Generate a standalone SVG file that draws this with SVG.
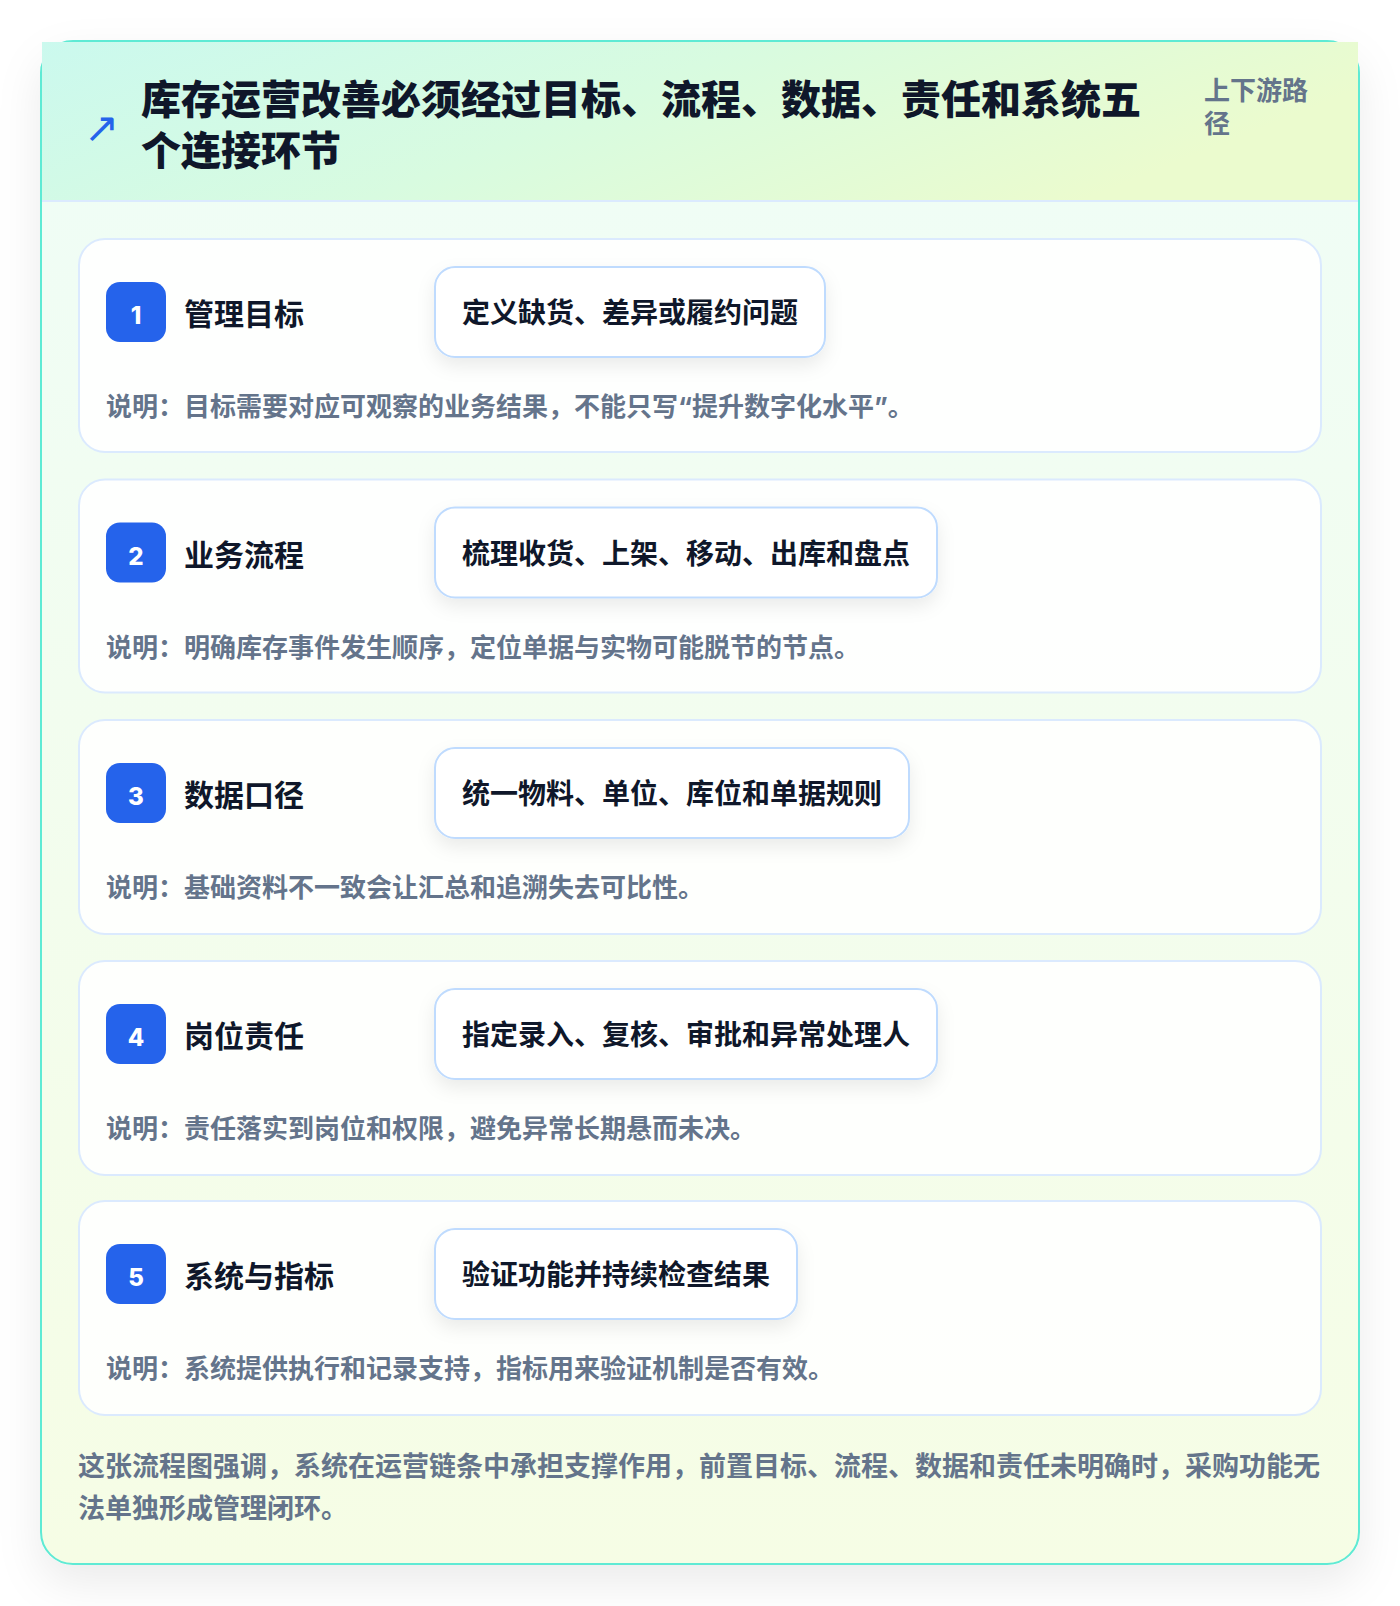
<svg xmlns="http://www.w3.org/2000/svg" width="1400" height="1606" viewBox="0 0 1400 1606">
<defs>
<linearGradient id="bodyGrad" x1="0" y1="0" x2="0" y2="1">
<stop offset="0" stop-color="#effdf7"/>
<stop offset="1" stop-color="#f6fde5"/>
</linearGradient>
<linearGradient id="headGrad" x1="0" y1="0" x2="1" y2="0.3">
<stop offset="0" stop-color="#cbf9ee"/>
<stop offset="0.5" stop-color="#d8fbe0"/>
<stop offset="1" stop-color="#ebfbce"/>
</linearGradient>
<filter id="outerShadow" x="-10%" y="-10%" width="120%" height="120%">
<feDropShadow dx="0" dy="18" stdDeviation="22" flood-color="#0f172a" flood-opacity="0.08"/>
</filter>
<filter id="pillShadow" x="-20%" y="-40%" width="140%" height="200%">
<feDropShadow dx="0" dy="8" stdDeviation="9" flood-color="#0f172a" flood-opacity="0.08"/>
</filter>
<style>
.card { fill: #ffffff; fill-opacity: 0.88; stroke: #dbeafe; stroke-width: 2; }
.pill { fill: #ffffff; stroke: #bfdbfe; stroke-width: 2; }
.badge { fill: #2563eb; }
.num { font-family: "Inter", "Noto Sans CJK SC", sans-serif; font-size: 24px; font-weight: 800; fill: #ffffff; text-anchor: middle; }
.label { font-family: "Noto Sans CJK SC", sans-serif; font-size: 30px; font-weight: 700; fill: #0f172a; }
.pilltext { font-family: "Noto Sans CJK SC", sans-serif; font-size: 28px; font-weight: 700; fill: #0f172a; }
.desc { font-family: "Inter", "Noto Sans CJK SC", sans-serif; font-size: 26px; font-weight: 700; fill: #64748b; }
.title { font-family: "Noto Sans CJK SC", sans-serif; font-size: 40px; font-weight: 900; fill: #0f172a; }
.side { font-family: "Noto Sans CJK SC", sans-serif; font-size: 26px; font-weight: 700; fill: #64748b; }
.foot { font-family: "Noto Sans CJK SC", sans-serif; font-size: 27px; font-weight: 700; fill: #64748b; }
</style>
</defs>
<rect x="0" y="0" width="1400" height="1606" fill="#ffffff"/>
<g id="frame">
<rect x="41" y="41" width="1318" height="1523" rx="32" fill="url(#bodyGrad)" stroke="#5eead4" stroke-width="2" filter="url(#outerShadow)"/>
<rect x="42" y="42" width="1316" height="159" fill="url(#headGrad)"/>
<line x1="42" y1="201" x2="1358" y2="201" stroke="#dbeafe" stroke-width="2"/>
<line x1="41" y1="90" x2="41" y2="1530" stroke="#5eead4" stroke-width="2"/>
<line x1="1359" y1="90" x2="1359" y2="1530" stroke="#5eead4" stroke-width="2"/>
<line x1="75" y1="41" x2="1325" y2="41" stroke="#5eead4" stroke-width="2"/>
</g>
<g id="header">
<text x="84" y="142" font-family="DejaVu Sans, sans-serif" font-size="42" font-weight="400" fill="#2563eb">↗</text>
<text class="title" x="141" y="114">库存运营改善必须经过目标、流程、数据、责任和系统五</text>
<text class="title" x="141" y="165">个连接环节</text>
<text class="side" x="1204" y="100">上下游路</text>
<text class="side" x="1204" y="133">径</text>
</g>
<g id="connectors"></g>
<g id="node1">
<rect class="card" x="79" y="239" width="1242" height="213" rx="26"/>
<rect class="badge" x="106" y="282" width="60" height="60" rx="14"/>
<text class="num" x="136" y="324">1</text>
<text class="label" x="184" y="325">管理目标</text>
<rect class="pill" x="435" y="267" width="390" height="90" rx="20" filter="url(#pillShadow)"/>
<text class="pilltext" x="462" y="323">定义缺货、差异或履约问题</text>
<text class="desc" x="106" y="416">说明：目标需要对应可观察的业务结果，不能只写“提升数字化水平”。</text>
</g>
<g id="node2">
<rect class="card" x="79" y="479.5" width="1242" height="213" rx="26"/>
<rect class="badge" x="106" y="522.5" width="60" height="60" rx="14"/>
<text class="num" x="136" y="564.5">2</text>
<text class="label" x="184" y="565.5">业务流程</text>
<rect class="pill" x="435" y="507.5" width="502" height="90" rx="20" filter="url(#pillShadow)"/>
<text class="pilltext" x="462" y="563.5">梳理收货、上架、移动、出库和盘点</text>
<text class="desc" x="106" y="656.5">说明：明确库存事件发生顺序，定位单据与实物可能脱节的节点。</text>
</g>
<g id="node3">
<rect class="card" x="79" y="720" width="1242" height="214" rx="26"/>
<rect class="badge" x="106" y="763" width="60" height="60" rx="14"/>
<text class="num" x="136" y="805">3</text>
<text class="label" x="184" y="806">数据口径</text>
<rect class="pill" x="435" y="748" width="474" height="90" rx="20" filter="url(#pillShadow)"/>
<text class="pilltext" x="462" y="804">统一物料、单位、库位和单据规则</text>
<text class="desc" x="106" y="897">说明：基础资料不一致会让汇总和追溯失去可比性。</text>
</g>
<g id="node4">
<rect class="card" x="79" y="961" width="1242" height="214" rx="26"/>
<rect class="badge" x="106" y="1004" width="60" height="60" rx="14"/>
<text class="num" x="136" y="1046">4</text>
<text class="label" x="184" y="1047">岗位责任</text>
<rect class="pill" x="435" y="989" width="502" height="90" rx="20" filter="url(#pillShadow)"/>
<text class="pilltext" x="462" y="1045">指定录入、复核、审批和异常处理人</text>
<text class="desc" x="106" y="1138">说明：责任落实到岗位和权限，避免异常长期悬而未决。</text>
</g>
<g id="node5">
<rect class="card" x="79" y="1201" width="1242" height="214" rx="26"/>
<rect class="badge" x="106" y="1244" width="60" height="60" rx="14"/>
<text class="num" x="136" y="1286">5</text>
<text class="label" x="184" y="1287">系统与指标</text>
<rect class="pill" x="435" y="1229" width="362" height="90" rx="20" filter="url(#pillShadow)"/>
<text class="pilltext" x="462" y="1285">验证功能并持续检查结果</text>
<text class="desc" x="106" y="1378">说明：系统提供执行和记录支持，指标用来验证机制是否有效。</text>
</g>
<g id="footer">
<text class="foot" x="78" y="1476">这张流程图强调，系统在运营链条中承担支撑作用，前置目标、流程、数据和责任未明确时，采购功能无</text>
<text class="foot" x="78" y="1518">法单独形成管理闭环。</text>
</g>
</svg>
